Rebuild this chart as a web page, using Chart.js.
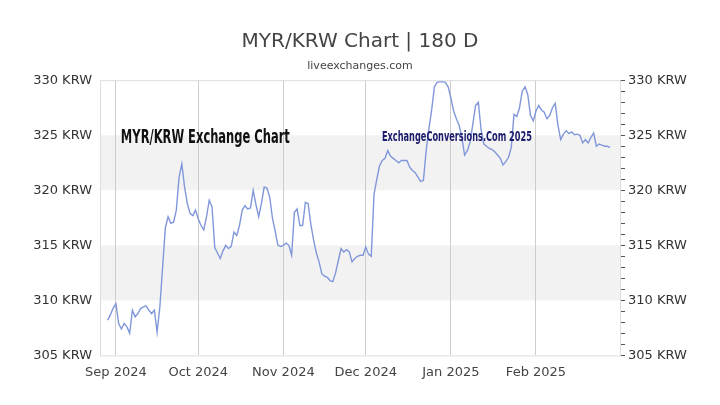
<!DOCTYPE html>
<html lang="en">
<head>
  <meta charset="UTF-8">
  <title>MYR/KRW Chart | 180 D</title>
  <script src="https://cdn.jsdelivr.net/npm/chart.js"></script>
  <style>
    html, body {
      margin: 0;
      padding: 0;
      background: #ffffff;
    }
    #chartBox {
      width: 720px;
      height: 405px;
    }
  </style>
</head>
<body>
  <div id="chartBox">
    <canvas id="rateChart" width="720" height="405"></canvas>
  </div>

  <script>
    // day 0 = 1 Sep 2024, first point is 29 Aug 2024
    const firstDay = -3;
    const rates = [
      308.2, 308.7, 309.3, 309.7, 307.9, 307.4, 307.9, 307.6, 307.0, 309.1,
      308.5, 308.8, 309.25, 309.4, 309.5, 309.1, 308.8, 309.1, 307.1, 309.4,
      313.0, 316.6, 317.6, 317.0, 317.1, 318.2, 321.2, 322.4, 320.3, 318.8,
      317.9, 317.7, 318.2, 317.4, 316.8, 316.4, 317.6, 319.1, 318.5, 314.8,
      314.3, 313.8, 314.5, 315.0, 314.7, 314.9, 316.2, 315.9, 316.8, 318.2,
      318.6, 318.3, 318.4, 320.0, 318.7, 317.6, 318.8, 320.3, 320.2, 319.4,
      317.5, 316.3, 315.0, 314.9, 315.0, 315.2, 315.0, 314.1, 318.0, 318.3,
      316.8, 316.8, 318.9, 318.8, 316.9, 315.5, 314.3, 313.5, 312.4, 312.2,
      312.1, 311.8, 311.7, 312.5, 313.6, 314.7, 314.4, 314.6, 314.4, 313.5,
      313.8, 314.0, 314.1, 314.1, 314.85, 314.2, 314.0, 319.6, 321.0, 322.2,
      322.7, 322.9, 323.6, 323.1, 322.9, 322.7, 322.5, 322.7, 322.7, 322.7,
      322.1, 321.8, 321.6, 321.2, 320.8, 320.9, 323.6, 325.6, 327.3, 329.4,
      329.8, 329.85, 329.85, 329.8, 329.4, 328.4, 327.2, 326.5, 325.9, 324.8,
      323.2, 323.6, 324.4, 326.0, 327.7, 328.0, 325.5, 324.2, 324.0, 323.8,
      323.7, 323.5, 323.2, 322.9, 322.3, 322.6, 323.0, 323.9, 326.9, 326.7,
      327.5, 329.0, 329.4, 328.7, 326.8, 326.3, 327.2, 327.7, 327.3, 327.1,
      326.5, 326.8, 327.5, 327.9, 325.9, 324.6, 325.1, 325.4, 325.15, 325.3,
      325.05, 325.1, 325.0, 324.3, 324.6, 324.3, 324.8, 325.2, 324.0, 324.2,
      324.1, 324.0, 324.0, 323.9
    ];

    const monthStarts = [0, 30, 61, 91, 122, 153];
    const monthLabels = ['Sep 2024', 'Oct 2024', 'Nov 2024', 'Dec 2024', 'Jan 2025', 'Feb 2025'];

    const yMin = 305;
    const yMax = 330;
    const shadedBands = [[310, 315], [320, 325]];

    const points = rates.map((v, i) => ({ x: firstDay + i, y: v }));

    const ctx = document.getElementById('rateChart').getContext('2d');

    // grey bands and a thin frame round the plot
    const bandPlugin = {
      id: 'bandPlugin',
      beforeDraw: (chart) => {
        const c = chart.ctx;
        const area = chart.chartArea;
        const y = chart.scales.y;
        c.save();
        c.fillStyle = '#f2f2f2';
        shadedBands.forEach(([lo, hi]) => {
          const top = y.getPixelForValue(hi);
          const bottom = y.getPixelForValue(lo);
          c.fillRect(area.left, top, area.right - area.left, bottom - top);
        });
        c.restore();
      },
      beforeDatasetsDraw: (chart) => {
        const c = chart.ctx;
        const area = chart.chartArea;
        c.save();
        c.strokeStyle = '#dcdcdc';
        c.lineWidth = 1;
        c.strokeRect(area.left + 0.5, area.top + 0.5, area.right - area.left, area.bottom - area.top);
        c.restore();
      }
    };

    // watermark texts inside the plot
    const watermarks = [
      { text: 'MYR/KRW Exchange Chart', x: 1.8, y: 324.3, width: 169, size: 20, color: '#111111' },
      { text: 'ExchangeConversions.Com 2025', x: 96.9, y: 324.45, width: 150, size: 14, color: '#1b1b6b' }
    ];

    const watermarkPlugin = {
      id: 'watermarkPlugin',
      afterDatasetsDraw: (chart) => {
        const c = chart.ctx;
        const xs = chart.scales.x;
        const ys = chart.scales.y;
        watermarks.forEach((w) => {
          c.save();
          c.font = 'bold ' + w.size + 'px "Liberation Sans Narrow", "DejaVu Sans Condensed", sans-serif';
          c.fillStyle = w.color;
          c.textBaseline = 'alphabetic';
          const px = xs.getPixelForValue(w.x);
          const py = ys.getPixelForValue(w.y);
          const natural = c.measureText(w.text).width;
          c.translate(px, py);
          c.scale(w.width / natural, 1);
          c.fillText(w.text, 0, 0);
          c.restore();
        });
      }
    };

    const rateChart = new Chart(ctx, {
      type: 'line',
      data: {
        datasets: [
          {
            label: 'MYR/KRW',
            data: points,
            borderColor: 'rgb(128, 151, 218)',
            borderWidth: 1.4,
            pointRadius: 0,
            tension: 0,
            fill: false
          }
        ]
      },
      options: {
        responsive: false,
        animation: false,
        layout: {
          padding: { top: 0, bottom: 16, left: 0, right: 0 }
        },
        scales: {
          x: {
            type: 'linear',
            min: -5.8,
            max: 183.6,
            afterBuildTicks: (scale) => {
              scale.ticks = monthStarts.map(v => ({ value: v }));
            },
            ticks: {
              autoSkip: false,
              maxRotation: 0,
              padding: 9,
              color: '#444444',
              font: { family: 'DejaVu Sans', size: 13 },
              callback: (value) => monthLabels[monthStarts.indexOf(value)]
            },
            grid: {
              color: '#cccccc',
              drawTicks: false
            },
            border: { display: false }
          },
          y: {
            type: 'linear',
            position: 'left',
            min: yMin,
            max: yMax,
            afterFit: (scale) => { scale.width = 100; },
            ticks: {
              stepSize: 5,
              padding: 0,
              color: '#333333',
              font: { family: 'DejaVu Sans', size: 13 },
              callback: (value) => value + ' KRW'
            },
            grid: { display: false },
            border: { display: false }
          },
          y2: {
            type: 'linear',
            position: 'right',
            min: yMin,
            max: yMax,
            afterFit: (scale) => { scale.width = 100; },
            ticks: {
              stepSize: 1,
              autoSkip: false,
              padding: 3,
              color: '#333333',
              font: { family: 'DejaVu Sans', size: 13 },
              callback: (value) => (value % 5 === 0 ? value + ' KRW' : '')
            },
            grid: {
              drawOnChartArea: false,
              drawTicks: true,
              tickLength: 5,
              color: '#555555'
            },
            border: { display: false }
          }
        },
        plugins: {
          legend: { display: false },
          tooltip: { enabled: false },
          title: {
            display: true,
            text: 'MYR/KRW Chart | 180 D',
            color: '#444444',
            font: { family: 'DejaVu Sans', size: 20, weight: 'normal' },
            padding: { top: 30, bottom: 6 }
          },
          subtitle: {
            display: true,
            text: 'liveexchanges.com',
            color: '#444444',
            font: { family: 'DejaVu Sans', size: 11 },
            padding: { top: 0, bottom: 7 }
          }
        }
      },
      plugins: [bandPlugin, watermarkPlugin]
    });
  </script>
</body>
</html>
